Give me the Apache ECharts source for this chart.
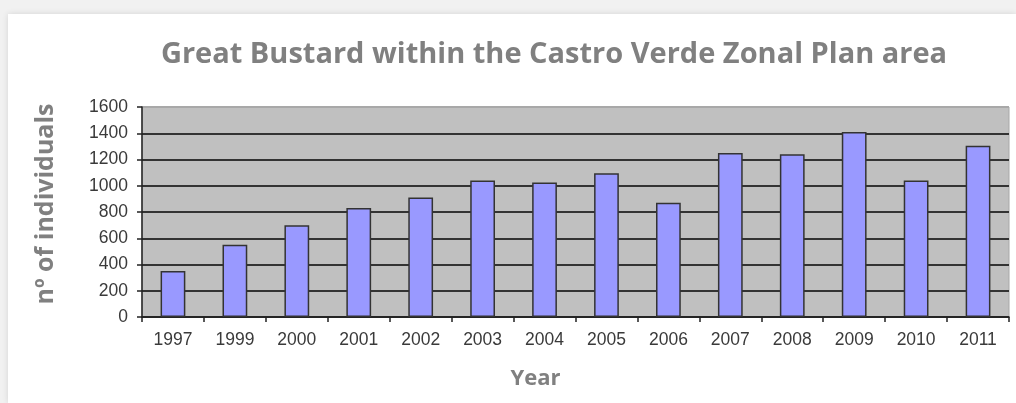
<!DOCTYPE html>
<html>
<head>
<meta charset="utf-8">
<script src="https://cdn.jsdelivr.net/npm/echarts@6/dist/echarts.min.js"></script>
<style>
html,body{margin:0;padding:0;width:1016px;height:403px;background:#f1f1f1;overflow:hidden;}
#card{position:absolute;left:8px;top:14px;width:1008px;height:389px;background:#fff;box-shadow:0 0 6px rgba(0,0,0,0.12);}
#main{position:absolute;left:0;top:0;width:1016px;height:403px;}
</style>
</head>
<body>
<div id="card"></div>
<div id="main"></div>
<script>
const years = ['1997','1999','2000','2001','2002','2003','2004','2005','2006','2007','2008','2009','2010','2011'];
const individuals = [350, 550, 700, 830, 910, 1040, 1025, 1095, 870, 1250, 1240, 1410, 1040, 1305];
const titleText = 'Great Bustard within the Castro Verde Zonal Plan area';
const yAxisName = 'nº of individuals';
const xAxisName = 'Year';

const chart = echarts.init(document.getElementById('main'), null, {renderer: 'canvas'});
chart.setOption({
  backgroundColor: 'transparent',
  animation: false,
  title: {
    text: titleText,
    left: 549, top: 35, textAlign: 'center',
    textStyle: {fontFamily: 'Open Sans', fontWeight: 'bold', fontSize: 29, color: '#808080'}
  },
  grid: {
    left: 142, right: 7, top: 107, bottom: 86,
    show: true, backgroundColor: '#c0c0c0', borderColor: '#a8a8a8', borderWidth: 1
  },
  xAxis: {
    type: 'category',
    data: years,
    name: xAxisName,
    nameLocation: 'middle',
    nameGap: 51,
    nameTextStyle: {fontFamily: 'Open Sans', fontWeight: 'bold', fontSize: 22, color: '#808080', padding: [0, 80, 0, 0]},
    axisLine: {lineStyle: {color: '#222', width: 1.5}},
    axisTick: {show: true, length: 5, alignWithLabel: false, lineStyle: {color: '#222', width: 1.5}},
    axisLabel: {fontFamily: 'Liberation Sans', fontSize: 17.5, color: '#3a3a3a', margin: 14}
  },
  yAxis: {
    type: 'value',
    min: 0, max: 1600, interval: 200,
    name: yAxisName,
    nameLocation: 'middle',
    nameGap: 84,
    nameRotate: 90,
    nameTextStyle: {fontFamily: 'Open Sans', fontWeight: 'bold', fontSize: 25, color: '#808080', padding: [0, 0, 0, 16]},
    axisLine: {show: true, lineStyle: {color: '#222', width: 1.5}},
    axisTick: {show: true, length: 5, lineStyle: {color: '#222', width: 1.5}},
    axisLabel: {fontFamily: 'Liberation Sans', fontSize: 17.5, color: '#3a3a3a', margin: 14, formatter: function (v) { return String(v); }},
    splitLine: {show: true, lineStyle: {color: ['#333','#333','#333','#333','#333','#333','#333','#333','#a8a8a8'], width: 2}}
  },
  series: [{
    type: 'bar',
    data: individuals,
    barWidth: '40%',
    itemStyle: {color: '#9999ff', borderColor: '#333', borderWidth: 1.5}
  }]
});
</script>
</body>
</html>
